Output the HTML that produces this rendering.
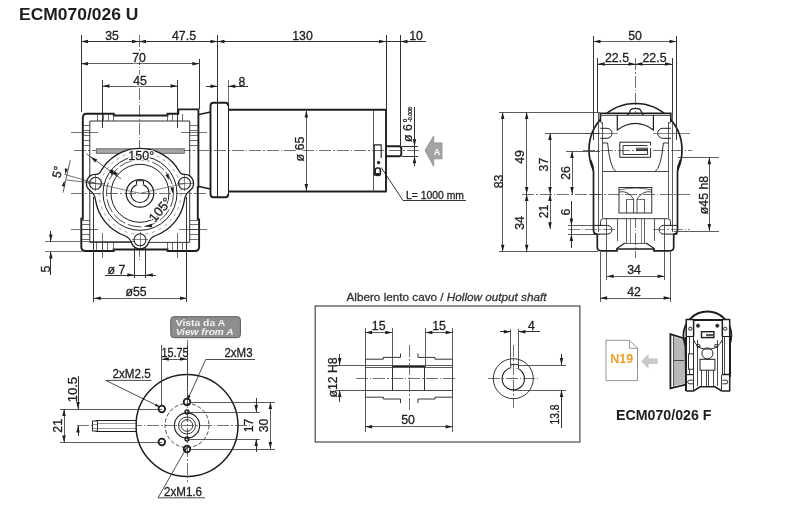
<!DOCTYPE html>
<html><head><meta charset="utf-8"><style>
html,body{margin:0;padding:0;background:#fff;width:800px;height:507px;overflow:hidden}
svg{display:block;will-change:transform}
</style></head><body>
<svg width="800" height="507" viewBox="0 0 800 507">
<rect width="800" height="507" fill="#fff"/>
<text x="19" y="19.8" font-family="Liberation Sans, sans-serif" font-size="16.3" text-anchor="start" font-weight="bold" font-style="normal" fill="#1e1e1e" textLength="119.5" lengthAdjust="spacingAndGlyphs">ECM070/026 U</text>
<line x1="81" y1="41.5" x2="139" y2="41.5" stroke="#333" stroke-width="1.0" shape-rendering="crispEdges"/>
<polygon points="81.00,41.50 88.00,39.75 88.00,43.25" fill="#1e1e1e"/>
<polygon points="139.00,41.50 132.00,43.25 132.00,39.75" fill="#1e1e1e"/>
<line x1="139" y1="41.5" x2="217.5" y2="41.5" stroke="#333" stroke-width="1.0" shape-rendering="crispEdges"/>
<polygon points="139.00,41.50 146.00,39.75 146.00,43.25" fill="#1e1e1e"/>
<polygon points="217.50,41.50 210.50,43.25 210.50,39.75" fill="#1e1e1e"/>
<line x1="217.5" y1="41.5" x2="386" y2="41.5" stroke="#333" stroke-width="1.0" shape-rendering="crispEdges"/>
<polygon points="217.50,41.50 224.50,39.75 224.50,43.25" fill="#1e1e1e"/>
<polygon points="386.00,41.50 379.00,43.25 379.00,39.75" fill="#1e1e1e"/>
<line x1="386" y1="41.5" x2="426" y2="41.5" stroke="#333" stroke-width="1.0" shape-rendering="crispEdges"/>
<polygon points="400.50,41.50 407.50,39.75 407.50,43.25" fill="#1e1e1e"/>
<text stroke="#1e1e1e" stroke-width="0.3" x="112" y="40" font-family="Liberation Sans, sans-serif" font-size="12.3" text-anchor="middle" font-weight="normal" font-style="normal" fill="#1e1e1e">35</text>
<text stroke="#1e1e1e" stroke-width="0.3" x="184" y="40" font-family="Liberation Sans, sans-serif" font-size="12.3" text-anchor="middle" font-weight="normal" font-style="normal" fill="#1e1e1e">47.5</text>
<text stroke="#1e1e1e" stroke-width="0.3" x="302.5" y="40" font-family="Liberation Sans, sans-serif" font-size="12.3" text-anchor="middle" font-weight="normal" font-style="normal" fill="#1e1e1e">130</text>
<text stroke="#1e1e1e" stroke-width="0.3" x="416" y="40" font-family="Liberation Sans, sans-serif" font-size="12.3" text-anchor="middle" font-weight="normal" font-style="normal" fill="#1e1e1e">10</text>
<line x1="81" y1="35" x2="81" y2="112" stroke="#333" stroke-width="1.0" shape-rendering="crispEdges"/>
<line x1="217.5" y1="35" x2="217.5" y2="103" stroke="#333" stroke-width="1.0" shape-rendering="crispEdges"/>
<line x1="386" y1="35" x2="386" y2="110" stroke="#333" stroke-width="1.0" shape-rendering="crispEdges"/>
<line x1="400.5" y1="35" x2="400.5" y2="146" stroke="#333" stroke-width="1.0" shape-rendering="crispEdges"/>
<line x1="139" y1="35" x2="139" y2="260" stroke="#333" stroke-width="0.7" stroke-dasharray="12 2 1.5 2" shape-rendering="crispEdges"/>
<line x1="81" y1="63.8" x2="199.3" y2="63.8" stroke="#333" stroke-width="0.8" shape-rendering="crispEdges"/>
<polygon points="81.00,63.80 88.00,62.05 88.00,65.55" fill="#1e1e1e"/>
<polygon points="199.30,63.80 192.30,65.55 192.30,62.05" fill="#1e1e1e"/>
<text x="139" y="62.3" font-family="Liberation Sans, sans-serif" font-size="12.3" text-anchor="middle" fill="#fff" stroke="#fff" stroke-width="2.5">70</text>
<text stroke="#1e1e1e" stroke-width="0.3" x="139" y="62.3" font-family="Liberation Sans, sans-serif" font-size="12.3" text-anchor="middle" font-weight="normal" font-style="normal" fill="#1e1e1e">70</text>
<line x1="199.3" y1="59" x2="199.3" y2="109" stroke="#333" stroke-width="1.0" shape-rendering="crispEdges"/>
<line x1="102.5" y1="86" x2="177.5" y2="86" stroke="#333" stroke-width="0.8" shape-rendering="crispEdges"/>
<polygon points="102.50,86.00 109.50,84.25 109.50,87.75" fill="#1e1e1e"/>
<polygon points="177.50,86.00 170.50,87.75 170.50,84.25" fill="#1e1e1e"/>
<text x="140" y="84.5" font-family="Liberation Sans, sans-serif" font-size="12.3" text-anchor="middle" fill="#fff" stroke="#fff" stroke-width="2.5">45</text>
<text stroke="#1e1e1e" stroke-width="0.3" x="140" y="84.5" font-family="Liberation Sans, sans-serif" font-size="12.3" text-anchor="middle" font-weight="normal" font-style="normal" fill="#1e1e1e">45</text>
<line x1="102.5" y1="80" x2="102.5" y2="128" stroke="#333" stroke-width="1.0" shape-rendering="crispEdges"/>
<line x1="177.5" y1="80" x2="177.5" y2="128" stroke="#333" stroke-width="1.0" shape-rendering="crispEdges"/>
<line x1="206" y1="86.2" x2="217.5" y2="86.2" stroke="#333" stroke-width="1.0" shape-rendering="crispEdges"/>
<polygon points="217.50,86.20 210.50,87.95 210.50,84.45" fill="#1e1e1e"/>
<line x1="228.3" y1="86.2" x2="248" y2="86.2" stroke="#333" stroke-width="1.0" shape-rendering="crispEdges"/>
<polygon points="228.30,86.20 235.30,84.45 235.30,87.95" fill="#1e1e1e"/>
<text stroke="#1e1e1e" stroke-width="0.3" x="242" y="85.5" font-family="Liberation Sans, sans-serif" font-size="12.3" text-anchor="middle" font-weight="normal" font-style="normal" fill="#1e1e1e">8</text>
<line x1="228.3" y1="80" x2="228.3" y2="110" stroke="#333" stroke-width="0.7" shape-rendering="crispEdges"/>
<path d="M228.3,106 Q228.3,102.7 225.3,102.7 L213.5,102.7 Q210.5,102.7 210.5,106 L210.5,194 Q210.5,197.3 213.5,197.3 L225.3,197.3 Q228.3,197.3 228.3,194" stroke="#1e1e1e" stroke-width="1.9" fill="none" />
<line x1="228.3" y1="106" x2="228.3" y2="194" stroke="#1e1e1e" stroke-width="1.2" shape-rendering="crispEdges"/>
<line x1="217.5" y1="102.7" x2="217.5" y2="197.3" stroke="#1e1e1e" stroke-width="1.9" shape-rendering="crispEdges"/>
<polyline points="228.3,109.8 386,109.8 386,191.5 228.3,191.5" stroke="#1e1e1e" stroke-width="1.9" fill="none" stroke-linejoin="round" />
<line x1="373.5" y1="109.8" x2="373.5" y2="191.5" stroke="#333" stroke-width="0.8" shape-rendering="crispEdges"/>
<path d="M386,146.2 L399,146.2 Q401.3,146.2 401.3,148.5 L401.3,154 Q401.3,156.3 399,156.3 L386,156.3" stroke="#1e1e1e" stroke-width="1.9" fill="none" />
<path d="M199,114.5 L210.5,112" stroke="#1e1e1e" stroke-width="1.5" fill="none" />
<path d="M199,186.5 L210.5,189" stroke="#1e1e1e" stroke-width="1.5" fill="none" />
<line x1="74" y1="150.5" x2="420" y2="150.5" stroke="#333" stroke-width="0.7" stroke-dasharray="12 2 1.5 2" shape-rendering="crispEdges"/>
<line x1="306.3" y1="110.5" x2="306.3" y2="191" stroke="#333" stroke-width="0.8" shape-rendering="crispEdges"/>
<polygon points="306.30,110.50 308.05,117.50 304.55,117.50" fill="#1e1e1e"/>
<polygon points="306.30,191.00 304.55,184.00 308.05,184.00" fill="#1e1e1e"/>
<text x="303.5" y="149" font-family="Liberation Sans, sans-serif" font-size="12.5" text-anchor="middle" fill="#fff" stroke="#fff" stroke-width="2.5" transform="rotate(-90 303.5 149)">ø 65</text>
<text stroke="#1e1e1e" stroke-width="0.3" x="303.5" y="149" font-family="Liberation Sans, sans-serif" font-size="12.5" text-anchor="middle" font-weight="normal" font-style="normal" fill="#1e1e1e" transform="rotate(-90 303.5 149)">ø 65</text>
<polyline points="374.3,176 374.3,144.9 381.2,144.9 381.2,158" stroke="#1e1e1e" stroke-width="1.1" fill="none" stroke-linejoin="round" />
<circle cx="378.6" cy="162.6" r="1.3" stroke="#1e1e1e" stroke-width="0.8" fill="#1e1e1e"/>
<rect x="375.2" y="168" width="5.2" height="7.5" rx="2.2" fill="#fff" stroke="#1e1e1e" stroke-width="1.6"/>
<rect x="375.5" y="173" width="4.6" height="2.6" rx="1.2" fill="#1e1e1e"/>
<polyline points="381.2,167.5 403,200.5 466,200.5" stroke="#1e1e1e" stroke-width="0.9" fill="none" stroke-linejoin="round" />
<text stroke="#1e1e1e" stroke-width="0.3" x="406" y="198.5" font-family="Liberation Sans, sans-serif" font-size="11" text-anchor="start" font-weight="normal" font-style="normal" fill="#1e1e1e" textLength="58" lengthAdjust="spacingAndGlyphs">L= 1000 mm</text>
<line x1="414.5" y1="106.5" x2="414.5" y2="166" stroke="#333" stroke-width="1.0" shape-rendering="crispEdges"/>
<polygon points="414.50,146.20 412.75,139.20 416.25,139.20" fill="#1e1e1e"/>
<polygon points="414.50,156.30 416.25,163.30 412.75,163.30" fill="#1e1e1e"/>
<line x1="401.5" y1="146.2" x2="418" y2="146.2" stroke="#333" stroke-width="1.0" shape-rendering="crispEdges"/>
<line x1="401.5" y1="156.3" x2="418" y2="156.3" stroke="#333" stroke-width="1.0" shape-rendering="crispEdges"/>
<text stroke="#1e1e1e" stroke-width="0.3" x="411.5" y="133" font-family="Liberation Sans, sans-serif" font-size="12.3" text-anchor="middle" font-weight="normal" font-style="normal" fill="#1e1e1e" transform="rotate(-90 411.5 133)">ø 6</text>
<text stroke="#1e1e1e" stroke-width="0.3" x="406.5" y="122" font-family="Liberation Sans, sans-serif" font-size="6" text-anchor="start" font-weight="normal" font-style="normal" fill="#1e1e1e" transform="rotate(-90 406.5 122)">0</text>
<text stroke="#1e1e1e" stroke-width="0.3" x="412" y="122" font-family="Liberation Sans, sans-serif" font-size="6" text-anchor="start" font-weight="normal" font-style="normal" fill="#1e1e1e" transform="rotate(-90 412 122)" textLength="15" lengthAdjust="spacingAndGlyphs">-0.008</text>
<polygon points="425,150.4 433.7,136.1 433.7,142.9 442,142.9 442,158.8 433.7,158.8 433.7,166.3" fill="#a4a4a4" stroke="#8a8a8a" stroke-width="0.8"/>
<text x="437" y="154.5" font-family="Liberation Sans, sans-serif" font-size="9" text-anchor="middle" font-weight="bold" font-style="normal" fill="#fff">A</text>
<path d="M82.8,118 Q82.8,113.8 86.5,113.8 L113.8,113.8 L113.8,115.5 L167.5,115.5 L167.5,113.8 L178.3,113.8 L178.3,109.4 L198.4,109.4 L198.4,187 L197.8,187 L197.8,219.4 L199.1,219.4 L199.1,247 Q199.1,251 195,251 L167.5,251 L167.5,249.5 L113.6,249.5 L113.6,251 L85.5,251 Q81.3,251 81.3,247 L81.3,218.7 L82.8,218.7 Z" stroke="#1e1e1e" stroke-width="1.9" fill="none" />
<polyline points="89.8,242.4 89.8,121 189.7,121 189.7,242.4 89.8,242.4" stroke="#333" stroke-width="1.0" fill="none" stroke-linejoin="round" />
<line x1="97.5" y1="113.8" x2="97.5" y2="121" stroke="#333" stroke-width="0.7" shape-rendering="crispEdges"/>
<line x1="103.8" y1="113.8" x2="103.8" y2="121" stroke="#333" stroke-width="0.7" shape-rendering="crispEdges"/>
<line x1="108.8" y1="113.8" x2="108.8" y2="121" stroke="#333" stroke-width="0.7" shape-rendering="crispEdges"/>
<line x1="113.5" y1="113.8" x2="113.5" y2="121" stroke="#333" stroke-width="0.7" shape-rendering="crispEdges"/>
<line x1="167.2" y1="113.8" x2="167.2" y2="121" stroke="#333" stroke-width="0.7" shape-rendering="crispEdges"/>
<line x1="172" y1="113.8" x2="172" y2="121" stroke="#333" stroke-width="0.7" shape-rendering="crispEdges"/>
<line x1="177" y1="113.8" x2="177" y2="121" stroke="#333" stroke-width="0.7" shape-rendering="crispEdges"/>
<line x1="182" y1="113.8" x2="182" y2="121" stroke="#333" stroke-width="0.7" shape-rendering="crispEdges"/>
<line x1="82.8" y1="125" x2="89.8" y2="125" stroke="#333" stroke-width="0.7" shape-rendering="crispEdges"/>
<line x1="189.7" y1="125" x2="198.4" y2="125" stroke="#333" stroke-width="0.7" shape-rendering="crispEdges"/>
<line x1="82.8" y1="130" x2="89.8" y2="130" stroke="#333" stroke-width="0.7" shape-rendering="crispEdges"/>
<line x1="189.7" y1="130" x2="198.4" y2="130" stroke="#333" stroke-width="0.7" shape-rendering="crispEdges"/>
<line x1="82.8" y1="135" x2="89.8" y2="135" stroke="#333" stroke-width="0.7" shape-rendering="crispEdges"/>
<line x1="189.7" y1="135" x2="198.4" y2="135" stroke="#333" stroke-width="0.7" shape-rendering="crispEdges"/>
<line x1="82.8" y1="140" x2="89.8" y2="140" stroke="#333" stroke-width="0.7" shape-rendering="crispEdges"/>
<line x1="189.7" y1="140" x2="198.4" y2="140" stroke="#333" stroke-width="0.7" shape-rendering="crispEdges"/>
<line x1="82.8" y1="145" x2="89.8" y2="145" stroke="#333" stroke-width="0.7" shape-rendering="crispEdges"/>
<line x1="189.7" y1="145" x2="198.4" y2="145" stroke="#333" stroke-width="0.7" shape-rendering="crispEdges"/>
<line x1="81.3" y1="220.8" x2="89.8" y2="220.8" stroke="#333" stroke-width="0.7" shape-rendering="crispEdges"/>
<line x1="189.7" y1="220.8" x2="199.1" y2="220.8" stroke="#333" stroke-width="0.7" shape-rendering="crispEdges"/>
<line x1="81.3" y1="224.8" x2="89.8" y2="224.8" stroke="#333" stroke-width="0.7" shape-rendering="crispEdges"/>
<line x1="189.7" y1="224.8" x2="199.1" y2="224.8" stroke="#333" stroke-width="0.7" shape-rendering="crispEdges"/>
<line x1="81.3" y1="229.6" x2="89.8" y2="229.6" stroke="#333" stroke-width="0.7" shape-rendering="crispEdges"/>
<line x1="189.7" y1="229.6" x2="199.1" y2="229.6" stroke="#333" stroke-width="0.7" shape-rendering="crispEdges"/>
<line x1="81.3" y1="234.1" x2="89.8" y2="234.1" stroke="#333" stroke-width="0.7" shape-rendering="crispEdges"/>
<line x1="189.7" y1="234.1" x2="199.1" y2="234.1" stroke="#333" stroke-width="0.7" shape-rendering="crispEdges"/>
<line x1="81.3" y1="239" x2="89.8" y2="239" stroke="#333" stroke-width="0.7" shape-rendering="crispEdges"/>
<line x1="189.7" y1="239" x2="199.1" y2="239" stroke="#333" stroke-width="0.7" shape-rendering="crispEdges"/>
<line x1="96.9" y1="242.4" x2="96.9" y2="251" stroke="#333" stroke-width="0.7" shape-rendering="crispEdges"/>
<line x1="102" y1="242.4" x2="102" y2="251" stroke="#333" stroke-width="0.7" shape-rendering="crispEdges"/>
<line x1="107.2" y1="242.4" x2="107.2" y2="251" stroke="#333" stroke-width="0.7" shape-rendering="crispEdges"/>
<line x1="113" y1="242.4" x2="113" y2="251" stroke="#333" stroke-width="0.7" shape-rendering="crispEdges"/>
<line x1="167.7" y1="242.4" x2="167.7" y2="251" stroke="#333" stroke-width="0.7" shape-rendering="crispEdges"/>
<line x1="172.2" y1="242.4" x2="172.2" y2="251" stroke="#333" stroke-width="0.7" shape-rendering="crispEdges"/>
<line x1="177.3" y1="242.4" x2="177.3" y2="251" stroke="#333" stroke-width="0.7" shape-rendering="crispEdges"/>
<line x1="182.4" y1="242.4" x2="182.4" y2="251" stroke="#333" stroke-width="0.7" shape-rendering="crispEdges"/>
<line x1="71.3" y1="132.5" x2="98.2" y2="132.5" stroke="#333" stroke-width="0.7" shape-rendering="crispEdges"/>
<line x1="181" y1="132.5" x2="207.4" y2="132.5" stroke="#333" stroke-width="0.7" shape-rendering="crispEdges"/>
<line x1="71.3" y1="229.7" x2="98.2" y2="229.7" stroke="#333" stroke-width="0.7" shape-rendering="crispEdges"/>
<line x1="179.2" y1="229.7" x2="207.4" y2="229.7" stroke="#333" stroke-width="0.7" shape-rendering="crispEdges"/>
<line x1="102.5" y1="233" x2="102.5" y2="258" stroke="#333" stroke-width="0.7" shape-rendering="crispEdges"/>
<line x1="177.3" y1="233" x2="177.3" y2="258" stroke="#333" stroke-width="0.7" shape-rendering="crispEdges"/>
<rect x="96.3" y="148.8" width="88" height="4.5" fill="#a6a6a6" stroke="#555" stroke-width="0.8"/>
<path d="M95.45,199.64 A14,14 0 0 0 90.06,190.47 A9,9 0 0 1 95.90,174.31 A5,5 0 0 0 100.52,171.71 A45,45 0 0 1 179.48,171.71 A5,5 0 0 0 184.10,174.31 A9,9 0 0 1 189.94,190.47 A14,14 0 0 0 184.55,199.64 A45,45 0 0 1 155.65,235.49 A12,12 0 0 0 148.49,242.78 A9,9 0 0 1 131.51,242.78 A12,12 0 0 0 124.35,235.49 A45,45 0 0 1 95.45,199.64 Z" stroke="#1e1e1e" stroke-width="1.3" fill="#fff" />
<circle cx="95.5" cy="183.3" r="6" stroke="#1e1e1e" stroke-width="1.1" fill="none"/>
<line x1="87.5" y1="183.3" x2="103.5" y2="183.3" stroke="#333" stroke-width="0.6" shape-rendering="crispEdges"/>
<line x1="95.5" y1="175.3" x2="95.5" y2="191.3" stroke="#333" stroke-width="0.6" shape-rendering="crispEdges"/>
<circle cx="184.5" cy="183.3" r="6" stroke="#1e1e1e" stroke-width="1.1" fill="none"/>
<line x1="176.5" y1="183.3" x2="192.5" y2="183.3" stroke="#333" stroke-width="0.6" shape-rendering="crispEdges"/>
<line x1="184.5" y1="175.3" x2="184.5" y2="191.3" stroke="#333" stroke-width="0.6" shape-rendering="crispEdges"/>
<circle cx="140" cy="239.8" r="6" stroke="#1e1e1e" stroke-width="1.1" fill="none"/>
<line x1="132" y1="239.8" x2="148" y2="239.8" stroke="#333" stroke-width="0.6" shape-rendering="crispEdges"/>
<line x1="140" y1="231.8" x2="140" y2="247.8" stroke="#333" stroke-width="0.6" shape-rendering="crispEdges"/>
<circle cx="140" cy="193.3" r="37" stroke="#1e1e1e" stroke-width="1.0" fill="none"/>
<circle cx="140" cy="193.3" r="33.5" stroke="#1e1e1e" stroke-width="0.8" fill="none" stroke-dasharray="14 3"/>
<circle cx="140" cy="193.3" r="29" stroke="#1e1e1e" stroke-width="1.0" fill="none"/>
<circle cx="140" cy="193.3" r="41" stroke="#777" stroke-width="0.7" fill="none" stroke-dasharray="3 4"/>
<circle cx="140" cy="193.3" r="13.8" stroke="#1e1e1e" stroke-width="1.2" fill="none"/>
<circle cx="140" cy="193.3" r="9.2" stroke="#1e1e1e" stroke-width="1.2" fill="none"/>
<rect x="136.5" y="180.8" width="7" height="4.5" fill="#fff"/>
<polyline points="136.5,184.6 136.5,180.8 143.5,180.8 143.5,184.6" stroke="#1e1e1e" stroke-width="1.1" fill="none" stroke-linejoin="round" />
<line x1="71" y1="193.3" x2="208" y2="193.3" stroke="#333" stroke-width="0.7" stroke-dasharray="12 2 1.5 2" shape-rendering="crispEdges"/>
<line x1="95.5" y1="183.5" x2="140" y2="193.3" stroke="#333" stroke-width="0.6"/>
<line x1="184.5" y1="183.5" x2="140" y2="193.3" stroke="#333" stroke-width="0.6"/>
<text x="141.3" y="160.3" font-family="Liberation Sans, sans-serif" font-size="12.5" text-anchor="middle" fill="#fff" stroke="#fff" stroke-width="2.5">150°</text>
<text stroke="#1e1e1e" stroke-width="0.3" x="141.3" y="160.3" font-family="Liberation Sans, sans-serif" font-size="12.5" text-anchor="middle" font-weight="normal" font-style="normal" fill="#1e1e1e">150°</text>
<text x="163.5" y="212.6" font-family="Liberation Sans, sans-serif" font-size="13" text-anchor="middle" fill="#fff" stroke="#fff" stroke-width="2.5" transform="rotate(-50 163.5 212.6)">105°</text>
<text stroke="#1e1e1e" stroke-width="0.3" x="163.5" y="212.6" font-family="Liberation Sans, sans-serif" font-size="13" text-anchor="middle" font-weight="normal" font-style="normal" fill="#1e1e1e" transform="rotate(-50 163.5 212.6)">105°</text>
<line x1="86.4" y1="153.8" x2="121" y2="178.8" stroke="#333" stroke-width="0.8"/>
<polygon points="90.50,156.80 97.22,159.47 95.10,162.38" fill="#1e1e1e"/>
<polygon points="116.00,175.20 109.28,172.53 111.40,169.62" fill="#1e1e1e"/>
<polygon points="112.00,176.00 109.71,170.20 113.09,169.86" fill="#1e1e1e"/>
<polygon points="113.00,170.00 117.96,173.78 115.24,175.82" fill="#1e1e1e"/>
<polygon points="169.00,180.00 165.41,174.90 168.62,173.78" fill="#1e1e1e"/>
<polygon points="172.50,193.50 170.50,187.59 173.90,187.42" fill="#1e1e1e"/>
<polygon points="145.00,226.50 151.67,223.78 152.17,227.14" fill="#1e1e1e"/>
<line x1="64.3" y1="174.3" x2="95.5" y2="183.3" stroke="#333" stroke-width="0.7"/>
<line x1="66.5" y1="180" x2="95.5" y2="183.3" stroke="#333" stroke-width="0.7"/>
<line x1="70.3" y1="160.2" x2="63" y2="192.7" stroke="#333" stroke-width="0.8"/>
<polygon points="65.20,174.50 64.81,168.30 67.95,168.93" fill="#1e1e1e"/>
<polygon points="64.50,180.50 64.89,186.70 61.75,186.07" fill="#1e1e1e"/>
<text stroke="#1e1e1e" stroke-width="0.3" x="61.5" y="173" font-family="Liberation Sans, sans-serif" font-size="12.3" text-anchor="middle" font-weight="normal" font-style="normal" fill="#1e1e1e" transform="rotate(-77 61.5 173)">5°</text>
<line x1="45" y1="241.5" x2="134" y2="241.5" stroke="#333" stroke-width="0.7" shape-rendering="crispEdges"/>
<line x1="45" y1="251.5" x2="82" y2="251.5" stroke="#333" stroke-width="0.7" shape-rendering="crispEdges"/>
<line x1="50.8" y1="231" x2="50.8" y2="241.5" stroke="#333" stroke-width="1.0" shape-rendering="crispEdges"/>
<polygon points="50.80,241.50 49.05,234.50 52.55,234.50" fill="#1e1e1e"/>
<line x1="50.8" y1="251.5" x2="50.8" y2="275" stroke="#333" stroke-width="1.0" shape-rendering="crispEdges"/>
<polygon points="50.80,251.50 52.55,258.50 49.05,258.50" fill="#1e1e1e"/>
<text stroke="#1e1e1e" stroke-width="0.3" x="49.5" y="269" font-family="Liberation Sans, sans-serif" font-size="12.3" text-anchor="middle" font-weight="normal" font-style="normal" fill="#1e1e1e" transform="rotate(-90 49.5 269)">5</text>
<line x1="134.3" y1="246" x2="134.3" y2="278" stroke="#333" stroke-width="1.0" shape-rendering="crispEdges"/>
<line x1="145.8" y1="246" x2="145.8" y2="278" stroke="#333" stroke-width="1.0" shape-rendering="crispEdges"/>
<line x1="105" y1="275" x2="156" y2="275" stroke="#333" stroke-width="1.0" shape-rendering="crispEdges"/>
<polygon points="134.30,275.00 127.30,276.75 127.30,273.25" fill="#1e1e1e"/>
<polygon points="145.80,275.00 152.80,273.25 152.80,276.75" fill="#1e1e1e"/>
<text stroke="#1e1e1e" stroke-width="0.3" x="116.5" y="273.5" font-family="Liberation Sans, sans-serif" font-size="12.3" text-anchor="middle" font-weight="normal" font-style="normal" fill="#1e1e1e">ø 7</text>
<line x1="93.8" y1="197" x2="93.8" y2="302" stroke="#333" stroke-width="1.0" shape-rendering="crispEdges"/>
<line x1="186.9" y1="197" x2="186.9" y2="302" stroke="#333" stroke-width="1.0" shape-rendering="crispEdges"/>
<line x1="93.8" y1="298.3" x2="187" y2="298.3" stroke="#333" stroke-width="0.8" shape-rendering="crispEdges"/>
<polygon points="93.80,298.30 100.80,296.55 100.80,300.05" fill="#1e1e1e"/>
<polygon points="187.00,298.30 180.00,300.05 180.00,296.55" fill="#1e1e1e"/>
<text stroke="#1e1e1e" stroke-width="0.3" x="136" y="296.3" font-family="Liberation Sans, sans-serif" font-size="12.3" text-anchor="middle" font-weight="normal" font-style="normal" fill="#1e1e1e">ø55</text>
<line x1="593.5" y1="41.6" x2="676.5" y2="41.6" stroke="#333" stroke-width="0.8" shape-rendering="crispEdges"/>
<polygon points="593.50,41.60 600.50,39.85 600.50,43.35" fill="#1e1e1e"/>
<polygon points="676.50,41.60 669.50,43.35 669.50,39.85" fill="#1e1e1e"/>
<text stroke="#1e1e1e" stroke-width="0.3" x="635" y="40" font-family="Liberation Sans, sans-serif" font-size="12.3" text-anchor="middle" font-weight="normal" font-style="normal" fill="#1e1e1e">50</text>
<line x1="597.6" y1="64" x2="672" y2="64" stroke="#333" stroke-width="1.0" shape-rendering="crispEdges"/>
<polygon points="597.60,64.00 604.60,62.25 604.60,65.75" fill="#1e1e1e"/>
<polygon points="635.50,64.00 628.50,65.75 628.50,62.25" fill="#1e1e1e"/>
<polygon points="635.50,64.00 642.50,62.25 642.50,65.75" fill="#1e1e1e"/>
<polygon points="672.00,64.00 665.00,65.75 665.00,62.25" fill="#1e1e1e"/>
<text stroke="#1e1e1e" stroke-width="0.3" x="617" y="62.3" font-family="Liberation Sans, sans-serif" font-size="12.3" text-anchor="middle" font-weight="normal" font-style="normal" fill="#1e1e1e">22.5</text>
<text stroke="#1e1e1e" stroke-width="0.3" x="654.5" y="62.3" font-family="Liberation Sans, sans-serif" font-size="12.3" text-anchor="middle" font-weight="normal" font-style="normal" fill="#1e1e1e">22.5</text>
<line x1="593.5" y1="36" x2="593.5" y2="113" stroke="#333" stroke-width="1.0" shape-rendering="crispEdges"/>
<line x1="676.5" y1="36" x2="676.5" y2="113" stroke="#333" stroke-width="1.0" shape-rendering="crispEdges"/>
<line x1="597.6" y1="58" x2="597.6" y2="113" stroke="#333" stroke-width="1.0" shape-rendering="crispEdges"/>
<line x1="672" y1="58" x2="672" y2="113" stroke="#333" stroke-width="1.0" shape-rendering="crispEdges"/>
<line x1="635.5" y1="58" x2="635.5" y2="258" stroke="#333" stroke-width="0.7" stroke-dasharray="12 2 1.5 2" shape-rendering="crispEdges"/>
<circle cx="635.5" cy="150" r="46.5" stroke="#1e1e1e" stroke-width="1.7" fill="none"/>
<polygon points="600.4,113.4 670.8,113.4 670.8,132 677,150 677,218 594,218 594,150 600.4,132" fill="#fff"/>
<path d="M600.4,122 L600.4,113.4 L670.8,113.4 L670.8,122" stroke="#1e1e1e" stroke-width="1.7" fill="none" />
<path d="M626.9,115 Q629,115 629.5,112 Q630.5,108.6 633,108.6 L638,108.6 Q640.5,108.6 641.5,112 Q642,115 643.9,115" stroke="#1e1e1e" stroke-width="1.1" fill="none" />
<line x1="600.3" y1="115" x2="671" y2="115" stroke="#333" stroke-width="0.8" shape-rendering="crispEdges"/>
<line x1="593.5" y1="113" x2="593.5" y2="140" stroke="#333" stroke-width="1.0" shape-rendering="crispEdges"/>
<line x1="676.5" y1="113" x2="676.5" y2="140" stroke="#333" stroke-width="1.0" shape-rendering="crispEdges"/>
<path d="M590.5,160 Q593.5,166 593.5,172 L593.5,230 Q593.5,234.1 597.3,234.1" stroke="#1e1e1e" stroke-width="1.7" fill="none" />
<path d="M680.5,160 Q677.5,166 677.5,172 L677.5,230 Q677.5,234.1 673.7,234.1" stroke="#1e1e1e" stroke-width="1.7" fill="none" />
<line x1="598.4" y1="113" x2="598.4" y2="232" stroke="#333" stroke-width="0.8" shape-rendering="crispEdges"/>
<line x1="672.8" y1="113" x2="672.8" y2="232" stroke="#333" stroke-width="0.8" shape-rendering="crispEdges"/>
<line x1="602.5" y1="122" x2="602.5" y2="217.8" stroke="#333" stroke-width="0.8" shape-rendering="crispEdges"/>
<line x1="668.1" y1="122" x2="668.1" y2="217.8" stroke="#333" stroke-width="0.8" shape-rendering="crispEdges"/>
<line x1="600.4" y1="122" x2="602.5" y2="124" stroke="#333" stroke-width="1.0"/>
<line x1="670.8" y1="122" x2="668.1" y2="124" stroke="#333" stroke-width="1.0"/>
<path d="M617.3,115 L617.3,129.9 Q635.5,117 653.4,129.9 L653.4,115" stroke="#1e1e1e" stroke-width="1.2" fill="none" />
<path d="M600.4,128.3 L607,128.3 A5,5 0 0 1 607,138.3 L600.4,138.3" stroke="#1e1e1e" stroke-width="1.0" fill="none" />
<path d="M670.8,128.3 L662.7,128.3 A5,5 0 0 0 662.7,138.3 L670.8,138.3" stroke="#1e1e1e" stroke-width="1.0" fill="none" />
<line x1="585" y1="133.1" x2="618" y2="133.1" stroke="#333" stroke-width="0.6" shape-rendering="crispEdges"/>
<line x1="653" y1="133.1" x2="690" y2="133.1" stroke="#333" stroke-width="0.6" shape-rendering="crispEdges"/>
<polyline points="650.6,145.5 650.6,142.2 619.8,142.2 619.8,157.3 650.6,157.3 650.6,148.2" stroke="#1e1e1e" stroke-width="1.0" fill="none" stroke-linejoin="round" />
<polyline points="623,145.5 623,154.5 647.5,154.5 647.5,148.2 636,148.2" stroke="#1e1e1e" stroke-width="0.9" fill="none" stroke-linejoin="round" />
<polyline points="623,145.5 647.5,145.5" stroke="#1e1e1e" stroke-width="0.9" fill="none" stroke-linejoin="round" />
<line x1="636" y1="150.2" x2="647.5" y2="150.2" stroke="#444" stroke-width="1.8" shape-rendering="crispEdges"/>
<path d="M602.5,143 L607.6,143 Q610,168 616,171.6" stroke="#1e1e1e" stroke-width="0.9" fill="none" />
<path d="M669,143 L663.4,143 Q661,168 655,171.6" stroke="#1e1e1e" stroke-width="0.9" fill="none" />
<line x1="602.5" y1="171.6" x2="668.1" y2="171.6" stroke="#333" stroke-width="0.9" shape-rendering="crispEdges"/>
<line x1="583" y1="150.6" x2="692" y2="150.6" stroke="#333" stroke-width="0.7" stroke-dasharray="12 2 1.5 2" shape-rendering="crispEdges"/>
<line x1="677.5" y1="157.3" x2="719" y2="157.3" stroke="#333" stroke-width="0.8" shape-rendering="crispEdges"/>
<line x1="673.8" y1="231" x2="719" y2="231" stroke="#333" stroke-width="0.8" shape-rendering="crispEdges"/>
<rect x="619" y="187.5" width="32.8" height="25.5" fill="none" stroke="#1e1e1e" stroke-width="0.9"/>
<path d="M619,192 Q628,190 633.6,199 L633.6,213" stroke="#1e1e1e" stroke-width="0.8" fill="none" />
<path d="M651.8,192 Q643,190 637,199 L637,213" stroke="#1e1e1e" stroke-width="0.8" fill="none" />
<path d="M619,190 Q635.5,186 651.8,190" stroke="#1e1e1e" stroke-width="0.7" fill="none" />
<line x1="626.7" y1="199" x2="626.7" y2="213" stroke="#333" stroke-width="0.8" shape-rendering="crispEdges"/>
<line x1="644" y1="199" x2="644" y2="213" stroke="#333" stroke-width="0.8" shape-rendering="crispEdges"/>
<line x1="626.7" y1="199" x2="633.6" y2="199" stroke="#333" stroke-width="0.7" shape-rendering="crispEdges"/>
<line x1="637" y1="199" x2="644" y2="199" stroke="#333" stroke-width="0.7" shape-rendering="crispEdges"/>
<line x1="590" y1="194.4" x2="692" y2="194.4" stroke="#333" stroke-width="0.7" stroke-dasharray="12 2 1.5 2" shape-rendering="crispEdges"/>
<path d="M600.5,225.4 L600.5,221.5 Q600.5,218.7 603.5,218.7 L667.5,218.7 Q670.5,218.7 670.5,221.5 L670.5,225.4" stroke="#1e1e1e" stroke-width="0.9" fill="none" />
<path d="M673.7,234.1 L673.7,247 Q673.7,250.8 670,250.8 L654,250.8 L654,249 L617,249 L617,250.8 L601,250.8 Q597.3,250.8 597.3,247 L597.3,234.1" stroke="#1e1e1e" stroke-width="1.7" fill="none" />
<line x1="617" y1="218.7" x2="617" y2="241" stroke="#333" stroke-width="0.8" shape-rendering="crispEdges"/>
<line x1="654" y1="218.7" x2="654" y2="241" stroke="#333" stroke-width="0.8" shape-rendering="crispEdges"/>
<path d="M616.5,248.8 L624.9,243" stroke="#1e1e1e" stroke-width="1.2" fill="none" />
<path d="M654.5,248.8 L646.1,243" stroke="#1e1e1e" stroke-width="1.2" fill="none" />
<line x1="626.7" y1="218.7" x2="626.7" y2="243" stroke="#333" stroke-width="0.8" shape-rendering="crispEdges"/>
<line x1="644" y1="218.7" x2="644" y2="243" stroke="#333" stroke-width="0.8" shape-rendering="crispEdges"/>
<line x1="630" y1="218.7" x2="630" y2="243" stroke="#333" stroke-width="0.6" shape-rendering="crispEdges"/>
<line x1="641" y1="218.7" x2="641" y2="243" stroke="#333" stroke-width="0.6" shape-rendering="crispEdges"/>
<line x1="624.9" y1="243" x2="646.1" y2="243" stroke="#333" stroke-width="0.8" shape-rendering="crispEdges"/>
<path d="M593.5,225.4 L607.5,225.4 A4.35,4.35 0 0 1 607.5,234.1 L593.5,234.1" stroke="#1e1e1e" stroke-width="1.0" fill="none" />
<path d="M677.5,225.4 L663.5,225.4 A4.35,4.35 0 0 0 663.5,234.1 L677.5,234.1" stroke="#1e1e1e" stroke-width="1.0" fill="none" />
<line x1="606.5" y1="218.7" x2="606.5" y2="280" stroke="#333" stroke-width="0.8" shape-rendering="crispEdges"/>
<line x1="664.6" y1="218.7" x2="664.6" y2="280" stroke="#333" stroke-width="0.8" shape-rendering="crispEdges"/>
<line x1="600.2" y1="252" x2="600.2" y2="302" stroke="#333" stroke-width="0.8" shape-rendering="crispEdges"/>
<line x1="670.6" y1="252" x2="670.6" y2="302" stroke="#333" stroke-width="0.8" shape-rendering="crispEdges"/>
<line x1="567.8" y1="225.4" x2="600" y2="225.4" stroke="#333" stroke-width="0.8" shape-rendering="crispEdges"/>
<line x1="567.8" y1="234.1" x2="600" y2="234.1" stroke="#333" stroke-width="0.8" shape-rendering="crispEdges"/>
<line x1="567.8" y1="229.7" x2="617.8" y2="229.7" stroke="#333" stroke-width="0.6" stroke-dasharray="12 2 1.5 2" shape-rendering="crispEdges"/>
<line x1="653" y1="229.7" x2="690" y2="229.7" stroke="#333" stroke-width="0.6" stroke-dasharray="12 2 1.5 2" shape-rendering="crispEdges"/>
<line x1="499" y1="112" x2="600" y2="112" stroke="#333" stroke-width="0.8" shape-rendering="crispEdges"/>
<line x1="499" y1="251.8" x2="598" y2="251.8" stroke="#333" stroke-width="0.8" shape-rendering="crispEdges"/>
<line x1="502.7" y1="112" x2="502.7" y2="251.8" stroke="#333" stroke-width="0.8" shape-rendering="crispEdges"/>
<polygon points="502.70,112.00 504.45,119.00 500.95,119.00" fill="#1e1e1e"/>
<polygon points="502.70,251.80 500.95,244.80 504.45,244.80" fill="#1e1e1e"/>
<text stroke="#1e1e1e" stroke-width="0.3" x="503" y="181.5" font-family="Liberation Sans, sans-serif" font-size="12.3" text-anchor="middle" font-weight="normal" font-style="normal" fill="#1e1e1e" transform="rotate(-90 503 181.5)">83</text>
<line x1="522" y1="194" x2="600" y2="194" stroke="#333" stroke-width="0.7" stroke-dasharray="12 2 1.5 2" shape-rendering="crispEdges"/>
<line x1="526.7" y1="112" x2="526.7" y2="194" stroke="#333" stroke-width="0.8" shape-rendering="crispEdges"/>
<polygon points="526.70,112.00 528.45,119.00 524.95,119.00" fill="#1e1e1e"/>
<polygon points="526.70,194.00 524.95,187.00 528.45,187.00" fill="#1e1e1e"/>
<text stroke="#1e1e1e" stroke-width="0.3" x="524" y="157" font-family="Liberation Sans, sans-serif" font-size="12.3" text-anchor="middle" font-weight="normal" font-style="normal" fill="#1e1e1e" transform="rotate(-90 524 157)">49</text>
<line x1="526.7" y1="194" x2="526.7" y2="251.8" stroke="#333" stroke-width="0.8" shape-rendering="crispEdges"/>
<polygon points="526.70,194.00 528.45,201.00 524.95,201.00" fill="#1e1e1e"/>
<polygon points="526.70,251.80 524.95,244.80 528.45,244.80" fill="#1e1e1e"/>
<text stroke="#1e1e1e" stroke-width="0.3" x="524" y="223" font-family="Liberation Sans, sans-serif" font-size="12.3" text-anchor="middle" font-weight="normal" font-style="normal" fill="#1e1e1e" transform="rotate(-90 524 223)">34</text>
<line x1="545" y1="133" x2="600" y2="133" stroke="#333" stroke-width="0.8" shape-rendering="crispEdges"/>
<line x1="550" y1="133" x2="550" y2="194" stroke="#333" stroke-width="0.8" shape-rendering="crispEdges"/>
<polygon points="550.00,133.00 551.75,140.00 548.25,140.00" fill="#1e1e1e"/>
<polygon points="550.00,194.00 548.25,187.00 551.75,187.00" fill="#1e1e1e"/>
<text stroke="#1e1e1e" stroke-width="0.3" x="548" y="164.6" font-family="Liberation Sans, sans-serif" font-size="12.3" text-anchor="middle" font-weight="normal" font-style="normal" fill="#1e1e1e" transform="rotate(-90 548 164.6)">37</text>
<line x1="550" y1="194" x2="550" y2="229.3" stroke="#333" stroke-width="0.8" shape-rendering="crispEdges"/>
<polygon points="550.00,194.00 551.75,201.00 548.25,201.00" fill="#1e1e1e"/>
<polygon points="550.00,229.30 548.25,222.30 551.75,222.30" fill="#1e1e1e"/>
<text stroke="#1e1e1e" stroke-width="0.3" x="548" y="211.5" font-family="Liberation Sans, sans-serif" font-size="12.3" text-anchor="middle" font-weight="normal" font-style="normal" fill="#1e1e1e" transform="rotate(-90 548 211.5)">21</text>
<line x1="566" y1="151" x2="600" y2="151" stroke="#333" stroke-width="0.8" shape-rendering="crispEdges"/>
<line x1="572" y1="151" x2="572" y2="194" stroke="#333" stroke-width="0.8" shape-rendering="crispEdges"/>
<polygon points="572.00,151.00 573.75,158.00 570.25,158.00" fill="#1e1e1e"/>
<polygon points="572.00,194.00 570.25,187.00 573.75,187.00" fill="#1e1e1e"/>
<text stroke="#1e1e1e" stroke-width="0.3" x="570" y="173" font-family="Liberation Sans, sans-serif" font-size="12.3" text-anchor="middle" font-weight="normal" font-style="normal" fill="#1e1e1e" transform="rotate(-90 570 173)">26</text>
<line x1="571.4" y1="201.4" x2="571.4" y2="247.6" stroke="#333" stroke-width="1.0" shape-rendering="crispEdges"/>
<polygon points="571.40,225.40 569.65,218.40 573.15,218.40" fill="#1e1e1e"/>
<polygon points="571.40,234.10 573.15,241.10 569.65,241.10" fill="#1e1e1e"/>
<text stroke="#1e1e1e" stroke-width="0.3" x="570" y="212" font-family="Liberation Sans, sans-serif" font-size="12.3" text-anchor="middle" font-weight="normal" font-style="normal" fill="#1e1e1e" transform="rotate(-90 570 212)">6</text>
<line x1="709.3" y1="157.3" x2="709.3" y2="231" stroke="#333" stroke-width="0.8" shape-rendering="crispEdges"/>
<polygon points="709.30,157.30 711.05,164.30 707.55,164.30" fill="#1e1e1e"/>
<polygon points="709.30,231.00 707.55,224.00 711.05,224.00" fill="#1e1e1e"/>
<text stroke="#1e1e1e" stroke-width="0.3" x="707.5" y="195" font-family="Liberation Sans, sans-serif" font-size="12.3" text-anchor="middle" font-weight="normal" font-style="normal" fill="#1e1e1e" transform="rotate(-90 707.5 195)">ø45 h8</text>
<line x1="606.7" y1="276.2" x2="664.6" y2="276.2" stroke="#333" stroke-width="0.8" shape-rendering="crispEdges"/>
<polygon points="606.70,276.20 613.70,274.45 613.70,277.95" fill="#1e1e1e"/>
<polygon points="664.60,276.20 657.60,277.95 657.60,274.45" fill="#1e1e1e"/>
<text stroke="#1e1e1e" stroke-width="0.3" x="634" y="274" font-family="Liberation Sans, sans-serif" font-size="12.3" text-anchor="middle" font-weight="normal" font-style="normal" fill="#1e1e1e">34</text>
<line x1="600.2" y1="298" x2="670.6" y2="298" stroke="#333" stroke-width="0.8" shape-rendering="crispEdges"/>
<polygon points="600.20,298.00 607.20,296.25 607.20,299.75" fill="#1e1e1e"/>
<polygon points="670.60,298.00 663.60,299.75 663.60,296.25" fill="#1e1e1e"/>
<text stroke="#1e1e1e" stroke-width="0.3" x="634" y="296" font-family="Liberation Sans, sans-serif" font-size="12.3" text-anchor="middle" font-weight="normal" font-style="normal" fill="#1e1e1e">42</text>
<rect x="170.8" y="316.7" width="69.6" height="21" rx="3" fill="#8e8e8e" stroke="#5a5a5a" stroke-width="1"/>
<text x="175.7" y="325.8" font-family="Liberation Sans, sans-serif" font-size="9.5" text-anchor="start" font-weight="bold" font-style="normal" fill="#f4f4f4" textLength="49.5" lengthAdjust="spacingAndGlyphs">Vista da A</text>
<text x="175.7" y="335.4" font-family="Liberation Sans, sans-serif" font-size="9.5" text-anchor="start" font-weight="bold" font-style="italic" fill="#f4f4f4" textLength="58" lengthAdjust="spacingAndGlyphs">View from A</text>
<circle cx="187" cy="425.5" r="51" stroke="#1e1e1e" stroke-width="1.5" fill="none"/>
<circle cx="187" cy="425.5" r="22" stroke="#1e1e1e" stroke-width="0.8" fill="none" stroke-dasharray="4 2"/>
<circle cx="187" cy="425.5" r="12.6" stroke="#1e1e1e" stroke-width="1.1" fill="none"/>
<circle cx="187" cy="425.5" r="8.5" stroke="#1e1e1e" stroke-width="0.9" fill="none"/>
<circle cx="187" cy="425.5" r="5.8" stroke="#1e1e1e" stroke-width="0.9" fill="none"/>
<line x1="187" y1="340" x2="187" y2="482" stroke="#333" stroke-width="0.7" stroke-dasharray="12 2 1.5 2" shape-rendering="crispEdges"/>
<line x1="77" y1="425.5" x2="250" y2="425.5" stroke="#333" stroke-width="0.7" stroke-dasharray="12 2 1.5 2" shape-rendering="crispEdges"/>
<circle cx="187" cy="402" r="3.3" stroke="#1e1e1e" stroke-width="1.8" fill="none"/>
<circle cx="187" cy="449" r="3.3" stroke="#1e1e1e" stroke-width="1.8" fill="none"/>
<circle cx="187" cy="412" r="2" stroke="#1e1e1e" stroke-width="1.4" fill="none"/>
<circle cx="187" cy="439" r="2" stroke="#1e1e1e" stroke-width="1.4" fill="none"/>
<circle cx="161.8" cy="409" r="3.3" stroke="#1e1e1e" stroke-width="1.8" fill="none"/>
<circle cx="161.8" cy="442" r="3.3" stroke="#1e1e1e" stroke-width="1.8" fill="none"/>
<line x1="190" y1="402" x2="275" y2="402" stroke="#333" stroke-width="0.8" shape-rendering="crispEdges"/>
<line x1="190" y1="449" x2="275" y2="449" stroke="#333" stroke-width="0.8" shape-rendering="crispEdges"/>
<line x1="270.4" y1="402" x2="270.4" y2="449" stroke="#333" stroke-width="0.8" shape-rendering="crispEdges"/>
<polygon points="270.40,402.00 272.15,409.00 268.65,409.00" fill="#1e1e1e"/>
<polygon points="270.40,449.00 268.65,442.00 272.15,442.00" fill="#1e1e1e"/>
<text stroke="#1e1e1e" stroke-width="0.3" x="268" y="425.5" font-family="Liberation Sans, sans-serif" font-size="12.3" text-anchor="middle" font-weight="normal" font-style="normal" fill="#1e1e1e" transform="rotate(-90 268 425.5)">30</text>
<line x1="190" y1="412" x2="260" y2="412" stroke="#333" stroke-width="0.8" shape-rendering="crispEdges"/>
<line x1="190" y1="439" x2="260" y2="439" stroke="#333" stroke-width="0.8" shape-rendering="crispEdges"/>
<line x1="256.2" y1="398" x2="256.2" y2="412" stroke="#333" stroke-width="1.0" shape-rendering="crispEdges"/>
<polygon points="256.20,412.00 254.45,405.00 257.95,405.00" fill="#1e1e1e"/>
<line x1="256.2" y1="439" x2="256.2" y2="452" stroke="#333" stroke-width="1.0" shape-rendering="crispEdges"/>
<polygon points="256.20,439.00 257.95,446.00 254.45,446.00" fill="#1e1e1e"/>
<text stroke="#1e1e1e" stroke-width="0.3" x="252.5" y="425.5" font-family="Liberation Sans, sans-serif" font-size="12.3" text-anchor="middle" font-weight="normal" font-style="normal" fill="#1e1e1e" transform="rotate(-90 252.5 425.5)">17</text>
<line x1="161.8" y1="345" x2="161.8" y2="405" stroke="#333" stroke-width="0.8" shape-rendering="crispEdges"/>
<line x1="187" y1="345" x2="187" y2="398" stroke="#333" stroke-width="0.8" shape-rendering="crispEdges"/>
<line x1="161.8" y1="359" x2="187" y2="359" stroke="#333" stroke-width="0.8" shape-rendering="crispEdges"/>
<polygon points="161.80,359.00 168.80,357.25 168.80,360.75" fill="#1e1e1e"/>
<polygon points="187.00,359.00 180.00,360.75 180.00,357.25" fill="#1e1e1e"/>
<text stroke="#1e1e1e" stroke-width="0.3" x="175" y="357" font-family="Liberation Sans, sans-serif" font-size="12.3" text-anchor="middle" font-weight="normal" font-style="normal" fill="#1e1e1e" textLength="27" lengthAdjust="spacingAndGlyphs">15.75</text>
<polyline points="187.5,400 205.7,359.5 255,359.5" stroke="#1e1e1e" stroke-width="0.8" fill="none" stroke-linejoin="round" />
<polygon points="187.50,400.00 188.34,394.90 190.72,395.96" fill="#1e1e1e"/>
<text stroke="#1e1e1e" stroke-width="0.3" x="238.5" y="356.5" font-family="Liberation Sans, sans-serif" font-size="12.3" text-anchor="middle" font-weight="normal" font-style="normal" fill="#1e1e1e" textLength="28" lengthAdjust="spacingAndGlyphs">2xM3</text>
<polyline points="187,447 158,497.8 205,497.8" stroke="#1e1e1e" stroke-width="0.8" fill="none" stroke-linejoin="round" />
<polygon points="187.00,447.00 185.59,451.97 183.34,450.65" fill="#1e1e1e"/>
<text stroke="#1e1e1e" stroke-width="0.3" x="183" y="496" font-family="Liberation Sans, sans-serif" font-size="12.3" text-anchor="middle" font-weight="normal" font-style="normal" fill="#1e1e1e" textLength="38" lengthAdjust="spacingAndGlyphs">2xM1.6</text>
<polyline points="160,407 105.7,380.4 151.5,380.4" stroke="#1e1e1e" stroke-width="0.8" fill="none" stroke-linejoin="round" />
<polygon points="160.00,407.00 154.95,405.93 156.11,403.60" fill="#1e1e1e"/>
<text stroke="#1e1e1e" stroke-width="0.3" x="131.6" y="378.3" font-family="Liberation Sans, sans-serif" font-size="12.3" text-anchor="middle" font-weight="normal" font-style="normal" fill="#1e1e1e" textLength="38" lengthAdjust="spacingAndGlyphs">2xM2.5</text>
<line x1="60" y1="409" x2="162" y2="409" stroke="#333" stroke-width="0.8" shape-rendering="crispEdges"/>
<line x1="60" y1="442.6" x2="162" y2="442.6" stroke="#333" stroke-width="0.8" shape-rendering="crispEdges"/>
<line x1="64" y1="409" x2="64" y2="442.6" stroke="#333" stroke-width="0.8" shape-rendering="crispEdges"/>
<polygon points="64.00,409.00 65.75,416.00 62.25,416.00" fill="#1e1e1e"/>
<polygon points="64.00,442.60 62.25,435.60 65.75,435.60" fill="#1e1e1e"/>
<text stroke="#1e1e1e" stroke-width="0.3" x="62" y="425.8" font-family="Liberation Sans, sans-serif" font-size="12.3" text-anchor="middle" font-weight="normal" font-style="normal" fill="#1e1e1e" transform="rotate(-90 62 425.8)">21</text>
<line x1="78" y1="376" x2="78" y2="409" stroke="#333" stroke-width="1.0" shape-rendering="crispEdges"/>
<polygon points="78.00,409.00 76.25,402.00 79.75,402.00" fill="#1e1e1e"/>
<line x1="78" y1="425.5" x2="78" y2="436" stroke="#333" stroke-width="1.0" shape-rendering="crispEdges"/>
<polygon points="78.00,425.50 79.75,432.50 76.25,432.50" fill="#1e1e1e"/>
<text stroke="#1e1e1e" stroke-width="0.3" x="77" y="389.6" font-family="Liberation Sans, sans-serif" font-size="12.3" text-anchor="middle" font-weight="normal" font-style="normal" fill="#1e1e1e" transform="rotate(-90 77 389.6)" textLength="25.5" lengthAdjust="spacingAndGlyphs">10.5</text>
<rect x="96" y="420.5" width="40" height="11" fill="#fff" stroke="#1e1e1e" stroke-width="1"/>
<line x1="96" y1="423.5" x2="136" y2="423.5" stroke="#333" stroke-width="0.5" shape-rendering="crispEdges"/>
<line x1="96" y1="428.5" x2="136" y2="428.5" stroke="#333" stroke-width="0.5" shape-rendering="crispEdges"/>
<rect x="92.5" y="421" width="5" height="10" fill="#fff" stroke="#1e1e1e" stroke-width="0.9"/>
<line x1="92.5" y1="424" x2="97.5" y2="424" stroke="#333" stroke-width="0.5" shape-rendering="crispEdges"/>
<line x1="92.5" y1="428" x2="97.5" y2="428" stroke="#333" stroke-width="0.5" shape-rendering="crispEdges"/>
<text stroke="#333" stroke-width="0.3" x="446.5" y="301" font-family="Liberation Sans, sans-serif" font-size="11.8" text-anchor="middle" font-weight="normal" font-style="normal" fill="#333" textLength="200" lengthAdjust="spacingAndGlyphs">Albero lento cavo / <tspan font-style="italic">Hollow output shaft</tspan></text>
<rect x="315.2" y="306" width="264.7" height="136" fill="none" stroke="#4a4a4a" stroke-width="1.2"/>
<path d="M365.1,359.2 L383.3,359.2 L383.3,357.4 L400.5,357.4 L400.5,353.5" stroke="#1e1e1e" stroke-width="0.9" fill="none" />
<path d="M452.6,359.2 L435,359.2 L435,357.4 L418,357.4 L418,353.5" stroke="#1e1e1e" stroke-width="0.9" fill="none" />
<path d="M365.1,397.2 L383.3,397.2 L383.3,399 L400.5,399 L400.5,403" stroke="#1e1e1e" stroke-width="0.9" fill="none" />
<path d="M452.6,397.2 L435,397.2 L435,399 L418,399 L418,403" stroke="#1e1e1e" stroke-width="0.9" fill="none" />
<line x1="365.1" y1="359.2" x2="365.1" y2="397.2" stroke="#333" stroke-width="0.9" shape-rendering="crispEdges"/>
<line x1="452.6" y1="359.2" x2="452.6" y2="397.2" stroke="#333" stroke-width="0.9" shape-rendering="crispEdges"/>
<line x1="365.1" y1="365.1" x2="452.6" y2="365.1" stroke="#333" stroke-width="0.8" shape-rendering="crispEdges"/>
<line x1="365.1" y1="367.2" x2="452.6" y2="367.2" stroke="#333" stroke-width="0.8" shape-rendering="crispEdges"/>
<line x1="392.7" y1="366.2" x2="424.1" y2="366.2" stroke="#1e1e1e" stroke-width="1.4" shape-rendering="crispEdges"/>
<line x1="365.1" y1="390" x2="452.6" y2="390" stroke="#333" stroke-width="0.9" shape-rendering="crispEdges"/>
<line x1="392.7" y1="366" x2="392.7" y2="390" stroke="#333" stroke-width="1.0" shape-rendering="crispEdges"/>
<line x1="424.1" y1="366" x2="424.1" y2="390" stroke="#333" stroke-width="1.0" shape-rendering="crispEdges"/>
<line x1="392.3" y1="328" x2="392.3" y2="367" stroke="#333" stroke-width="0.8" shape-rendering="crispEdges"/>
<line x1="425.4" y1="328" x2="425.4" y2="367" stroke="#333" stroke-width="0.8" shape-rendering="crispEdges"/>
<line x1="365.1" y1="328" x2="365.1" y2="359" stroke="#333" stroke-width="0.8" shape-rendering="crispEdges"/>
<line x1="452.6" y1="328" x2="452.6" y2="359" stroke="#333" stroke-width="0.8" shape-rendering="crispEdges"/>
<line x1="365.1" y1="397" x2="365.1" y2="432" stroke="#333" stroke-width="0.8" shape-rendering="crispEdges"/>
<line x1="452.6" y1="397" x2="452.6" y2="432" stroke="#333" stroke-width="0.8" shape-rendering="crispEdges"/>
<line x1="409" y1="345" x2="409" y2="412" stroke="#333" stroke-width="0.7" stroke-dasharray="12 2 1.5 2" shape-rendering="crispEdges"/>
<line x1="355.6" y1="378.7" x2="457" y2="378.7" stroke="#333" stroke-width="0.7" stroke-dasharray="12 2 1.5 2" shape-rendering="crispEdges"/>
<line x1="365.1" y1="332.6" x2="392.3" y2="332.6" stroke="#333" stroke-width="0.8" shape-rendering="crispEdges"/>
<polygon points="365.10,332.60 372.10,330.85 372.10,334.35" fill="#1e1e1e"/>
<polygon points="392.30,332.60 385.30,334.35 385.30,330.85" fill="#1e1e1e"/>
<text stroke="#1e1e1e" stroke-width="0.3" x="378.7" y="330" font-family="Liberation Sans, sans-serif" font-size="12.3" text-anchor="middle" font-weight="normal" font-style="normal" fill="#1e1e1e">15</text>
<line x1="425.4" y1="332.6" x2="452.6" y2="332.6" stroke="#333" stroke-width="0.8" shape-rendering="crispEdges"/>
<polygon points="425.40,332.60 432.40,330.85 432.40,334.35" fill="#1e1e1e"/>
<polygon points="452.60,332.60 445.60,334.35 445.60,330.85" fill="#1e1e1e"/>
<text stroke="#1e1e1e" stroke-width="0.3" x="439" y="330" font-family="Liberation Sans, sans-serif" font-size="12.3" text-anchor="middle" font-weight="normal" font-style="normal" fill="#1e1e1e">15</text>
<line x1="365.1" y1="426.7" x2="452.6" y2="426.7" stroke="#333" stroke-width="0.8" shape-rendering="crispEdges"/>
<polygon points="365.10,426.70 372.10,424.95 372.10,428.45" fill="#1e1e1e"/>
<polygon points="452.60,426.70 445.60,428.45 445.60,424.95" fill="#1e1e1e"/>
<text stroke="#1e1e1e" stroke-width="0.3" x="408" y="424.2" font-family="Liberation Sans, sans-serif" font-size="12.3" text-anchor="middle" font-weight="normal" font-style="normal" fill="#1e1e1e">50</text>
<line x1="335" y1="365.1" x2="365" y2="365.1" stroke="#333" stroke-width="0.8" shape-rendering="crispEdges"/>
<line x1="335" y1="390" x2="365" y2="390" stroke="#333" stroke-width="0.8" shape-rendering="crispEdges"/>
<line x1="339.7" y1="354" x2="339.7" y2="365.1" stroke="#333" stroke-width="1.0" shape-rendering="crispEdges"/>
<polygon points="339.70,365.10 337.95,358.10 341.45,358.10" fill="#1e1e1e"/>
<line x1="339.7" y1="390" x2="339.7" y2="402" stroke="#333" stroke-width="1.0" shape-rendering="crispEdges"/>
<polygon points="339.70,390.00 341.45,397.00 337.95,397.00" fill="#1e1e1e"/>
<text stroke="#1e1e1e" stroke-width="0.3" x="337" y="377.5" font-family="Liberation Sans, sans-serif" font-size="12.3" text-anchor="middle" font-weight="normal" font-style="normal" fill="#1e1e1e" transform="rotate(-90 337 377.5)" textLength="40" lengthAdjust="spacingAndGlyphs">ø12 H8</text>
<circle cx="513.3" cy="378.7" r="20" stroke="#1e1e1e" stroke-width="0.9" fill="none"/>
<circle cx="513.3" cy="378.7" r="11.2" stroke="#1e1e1e" stroke-width="1.1" fill="none"/>
<rect x="510.8" y="365" width="7.7" height="3.5" fill="#fff" stroke="none"/>
<polyline points="510.8,367.6 510.8,364.6 518.5,364.6 518.5,368" stroke="#1e1e1e" stroke-width="0.9" fill="none" stroke-linejoin="round" />
<line x1="510.8" y1="329" x2="510.8" y2="364.6" stroke="#333" stroke-width="0.8" shape-rendering="crispEdges"/>
<line x1="518.5" y1="329" x2="518.5" y2="364.6" stroke="#333" stroke-width="0.8" shape-rendering="crispEdges"/>
<line x1="500" y1="331.8" x2="510.8" y2="331.8" stroke="#333" stroke-width="1.0" shape-rendering="crispEdges"/>
<polygon points="510.80,331.80 503.80,333.55 503.80,330.05" fill="#1e1e1e"/>
<line x1="518.5" y1="331.8" x2="540" y2="331.8" stroke="#333" stroke-width="1.0" shape-rendering="crispEdges"/>
<polygon points="518.50,331.80 525.50,330.05 525.50,333.55" fill="#1e1e1e"/>
<text stroke="#1e1e1e" stroke-width="0.3" x="531.3" y="330.3" font-family="Liberation Sans, sans-serif" font-size="12.3" text-anchor="middle" font-weight="normal" font-style="normal" fill="#1e1e1e">4</text>
<line x1="513.3" y1="345" x2="513.3" y2="408" stroke="#333" stroke-width="0.7" stroke-dasharray="12 2 1.5 2" shape-rendering="crispEdges"/>
<line x1="488" y1="378.7" x2="538" y2="378.7" stroke="#333" stroke-width="0.7" stroke-dasharray="12 2 1.5 2" shape-rendering="crispEdges"/>
<line x1="518.5" y1="365" x2="566" y2="365" stroke="#333" stroke-width="0.8" shape-rendering="crispEdges"/>
<line x1="513.3" y1="390" x2="566" y2="390" stroke="#333" stroke-width="0.8" shape-rendering="crispEdges"/>
<line x1="561.5" y1="353.6" x2="561.5" y2="365" stroke="#333" stroke-width="1.0" shape-rendering="crispEdges"/>
<polygon points="561.50,365.00 559.75,358.00 563.25,358.00" fill="#1e1e1e"/>
<line x1="561.5" y1="390" x2="561.5" y2="428" stroke="#333" stroke-width="1.0" shape-rendering="crispEdges"/>
<polygon points="561.50,390.00 563.25,397.00 559.75,397.00" fill="#1e1e1e"/>
<text stroke="#1e1e1e" stroke-width="0.3" x="559" y="414.5" font-family="Liberation Sans, sans-serif" font-size="12.3" text-anchor="middle" font-weight="normal" font-style="normal" fill="#1e1e1e" transform="rotate(-90 559 414.5)" textLength="20" lengthAdjust="spacingAndGlyphs">13.8</text>
<text x="616" y="419.8" font-family="Liberation Sans, sans-serif" font-size="14.5" text-anchor="start" font-weight="bold" font-style="normal" fill="#1e1e1e" textLength="95.5" lengthAdjust="spacingAndGlyphs">ECM070/026 F</text>
<path d="M606,340.3 L629.5,340.3 L637.5,348.3 L637.5,380.6 L606,380.6 Z" stroke="#888" stroke-width="0.9" fill="#fff" />
<polyline points="629.5,340.3 629.5,348.3 637.5,348.3" stroke="#888" stroke-width="0.8" fill="none" stroke-linejoin="round" />
<text x="621.8" y="362.8" font-family="Liberation Sans, sans-serif" font-size="12.5" text-anchor="middle" font-weight="bold" font-style="normal" fill="#e8a030">N19</text>
<polygon points="641,361.3 648.5,354 648.5,358.5 657.7,358.5 657.7,364 648.5,364 648.5,368.7" fill="#c8c8c8"/>
<path d="M670.4,334.1 L684.7,338.6 L685.7,384.5 L670.4,388.4 Z" stroke="#1e1e1e" stroke-width="1.8" fill="#fff" />
<polygon points="673.5,337 684.5,339.5 685,383.5 673.5,386" fill="#b8b8b8"/>
<line x1="673.5" y1="336" x2="673.5" y2="387" stroke="#555" stroke-width="1.0" shape-rendering="crispEdges"/>
<line x1="674" y1="360.8" x2="684" y2="360.8" stroke="#444" stroke-width="1.2" shape-rendering="crispEdges"/>
<circle cx="707.4" cy="335.5" r="24" stroke="#1e1e1e" stroke-width="1.8" fill="none"/>
<rect x="686.2" y="319.5" width="43.5" height="71.4" fill="#fff"/>
<line x1="729.7" y1="336" x2="729.7" y2="377" stroke="#1e1e1e" stroke-width="1.8" shape-rendering="crispEdges"/>
<polyline points="686.2,336.6 686.2,319.5 693.6,319.5 693.6,336.6" stroke="#1e1e1e" stroke-width="1.5" fill="none" stroke-linejoin="round" />
<polyline points="722.3,336.6 722.3,319.5 729.7,319.5 729.7,336.6" stroke="#1e1e1e" stroke-width="1.5" fill="none" stroke-linejoin="round" />
<line x1="686.2" y1="336.6" x2="693.6" y2="336.6" stroke="#1e1e1e" stroke-width="1.2" shape-rendering="crispEdges"/>
<line x1="722.3" y1="336.6" x2="729.7" y2="336.6" stroke="#1e1e1e" stroke-width="1.2" shape-rendering="crispEdges"/>
<line x1="693.6" y1="320" x2="722.3" y2="320" stroke="#1e1e1e" stroke-width="1.5" shape-rendering="crispEdges"/>
<rect x="688.7" y="327.2" width="3.2" height="3" rx="1.2" fill="#fff" stroke="#1e1e1e" stroke-width="1"/>
<rect x="723.6" y="327.2" width="3.2" height="3" rx="1.2" fill="#fff" stroke="#1e1e1e" stroke-width="1"/>
<circle cx="698" cy="325.7" r="1.6" stroke="#1e1e1e" stroke-width="0.8" fill="#333"/>
<circle cx="717.3" cy="325.7" r="1.6" stroke="#1e1e1e" stroke-width="0.8" fill="#333"/>
<rect x="701.5" y="331.7" width="12.4" height="5.9" fill="none" stroke="#1e1e1e" stroke-width="1.4"/>
<rect x="706" y="334" width="7" height="2.2" fill="#555"/>
<line x1="686.2" y1="336.6" x2="686.2" y2="391" stroke="#1e1e1e" stroke-width="1.5" shape-rendering="crispEdges"/>
<line x1="689.2" y1="336.6" x2="689.2" y2="374.6" stroke="#333" stroke-width="0.9" shape-rendering="crispEdges"/>
<line x1="693.6" y1="336.6" x2="693.6" y2="374.6" stroke="#333" stroke-width="1.0" shape-rendering="crispEdges"/>
<rect x="688.5" y="353.9" width="5" height="15.3" fill="#fff" stroke="#1e1e1e" stroke-width="0.9"/>
<line x1="722.3" y1="336.6" x2="722.3" y2="374.6" stroke="#333" stroke-width="1.0" shape-rendering="crispEdges"/>
<line x1="724.6" y1="336.6" x2="724.6" y2="374.6" stroke="#333" stroke-width="0.9" shape-rendering="crispEdges"/>
<line x1="697.6" y1="340" x2="697.6" y2="386" stroke="#333" stroke-width="0.9" shape-rendering="crispEdges"/>
<line x1="717.3" y1="340" x2="717.3" y2="386" stroke="#333" stroke-width="0.9" shape-rendering="crispEdges"/>
<path d="M693.6,340 Q697,348 704,349 L711,349 Q718,348 722.3,340" stroke="#1e1e1e" stroke-width="1.0" fill="none" />
<circle cx="698.5" cy="346" r="1.6" stroke="#1e1e1e" stroke-width="1.0" fill="none"/>
<circle cx="716.3" cy="346" r="1.6" stroke="#1e1e1e" stroke-width="1.0" fill="none"/>
<circle cx="707.4" cy="353.4" r="5.5" stroke="#1e1e1e" stroke-width="1.0" fill="none"/>
<rect x="700" y="359.3" width="14.9" height="10.9" fill="none" stroke="#1e1e1e" stroke-width="1.0"/>
<line x1="701.5" y1="370.2" x2="701.5" y2="386.5" stroke="#333" stroke-width="0.9" shape-rendering="crispEdges"/>
<line x1="706.5" y1="370.2" x2="706.5" y2="386.5" stroke="#333" stroke-width="0.9" shape-rendering="crispEdges"/>
<line x1="708.9" y1="370.2" x2="708.9" y2="386.5" stroke="#333" stroke-width="0.9" shape-rendering="crispEdges"/>
<line x1="713.4" y1="370.2" x2="713.4" y2="386.5" stroke="#333" stroke-width="0.9" shape-rendering="crispEdges"/>
<polyline points="686.2,374.6 693.6,374.6" stroke="#1e1e1e" stroke-width="1.2" fill="none" stroke-linejoin="round" />
<polyline points="721.8,374.6 729.7,374.6 729.7,391 721.8,391" stroke="#1e1e1e" stroke-width="1.5" fill="none" stroke-linejoin="round" />
<path d="M686.2,391 L693.6,391 L700,386.8 L715,386.8 L721.8,391" stroke="#1e1e1e" stroke-width="1.5" fill="none" />
<line x1="693.6" y1="374.6" x2="693.6" y2="391" stroke="#333" stroke-width="1.0" shape-rendering="crispEdges"/>
<line x1="721.8" y1="374.6" x2="721.8" y2="391" stroke="#333" stroke-width="1.0" shape-rendering="crispEdges"/>
<path d="M693,380.2 L689.5,380.2 A1.8,1.8 0 0 0 689.5,383.8 L693,383.8" stroke="#1e1e1e" stroke-width="0.9" fill="none" />
<path d="M722.5,380.2 L726,380.2 A1.8,1.8 0 0 1 726,383.8 L722.5,383.8" stroke="#1e1e1e" stroke-width="0.9" fill="none" />
</svg></body></html>
